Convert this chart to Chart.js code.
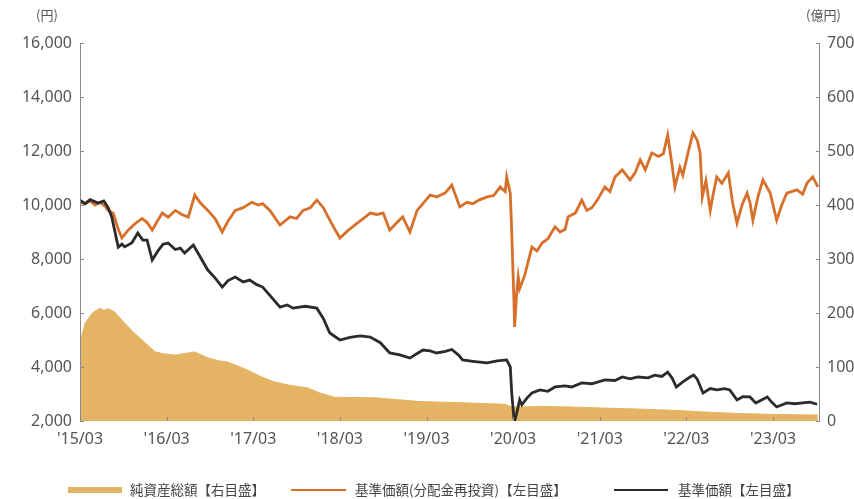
<!DOCTYPE html>
<html>
<head>
<meta charset="utf-8">
<script src="https://cdn.jsdelivr.net/npm/chart.js@4/dist/chart.umd.min.js"></script>
<style>
  html, body { margin: 0; padding: 0; background: #fff; }
  #wrap { position: relative; width: 854px; height: 499px; overflow: hidden; }
  canvas { position: absolute; left: 0; top: 0; }
  .lg { position: absolute; top: 479px; font: 13.5px "Noto Sans CJK JP", sans-serif; color: #444; white-space: nowrap; }
  .sw { position: absolute; }
</style>
</head>
<body>
<div id="wrap">
  <canvas id="chart" width="854" height="499"></canvas>
  <div class="sw" style="left:68px;top:487px;width:54px;height:6px;background:#E4B464;"></div>
  <div class="lg" style="left:130px;">純資産総額【右目盛】</div>
  <div class="sw" style="left:291px;top:489px;width:55px;height:2px;background:#D6702A;"></div>
  <div class="lg" style="left:355px;">基準価額(分配金再投資)【左目盛】</div>
  <div class="sw" style="left:614px;top:489px;width:54px;height:2px;background:#2B2B2B;"></div>
  <div class="lg" style="left:678px;">基準価額【左目盛】</div>
</div>
<script>
// months counted from 2015/03
const xTickMonths = [0, 12, 24, 36, 48, 60, 72, 84, 96];
const xTickLabels = ["'15/03", "'16/03", "'17/03", "'18/03", "'19/03", "'20/03", "'21/03", "'22/03", "'23/03"];

// 基準価額(分配金再投資) 円
const reinvMonths = [0, 0.7, 1.4, 2.1, 2.8, 3.5, 3.9, 4.6, 5.3, 5.8, 6.6, 7.6, 8.6, 9.3, 10, 10.7, 11.4, 12.2, 13.2, 14.1,
  15, 15.9, 16.6, 17.7, 18.7, 19.7, 20.5, 21.5, 22.6, 23.8, 24.7, 25.3, 26.3, 27.7, 29.1, 30, 30.9, 31.9, 32.8, 33.7,
  34.6, 35.3, 36, 37.1, 38.4, 39.5, 40.2, 41.1, 42, 42.9, 43.9, 44.7, 45.7, 46.7, 47.5, 48.5, 49.4, 50.6, 51.5, 52.6,
  53.6, 54.4, 55.4, 56.4, 57.3, 58.2, 58.9, 59.1, 59.6, 59.8, 60.1, 60.2, 60.5, 60.7, 60.9, 61.6, 62.6, 63.3, 64, 64.8,
  65.8, 66.5, 67.2, 67.6, 68.6, 69.5, 70.2, 70.9, 71.7, 72.7, 73.4, 74.1, 75.1, 76.2, 76.9, 77.6, 78.3, 79.2, 80.1, 80.8,
  81.4, 82, 82.4, 83.1, 83.5, 84.1, 84.9, 85.5, 85.9, 86.2, 86.7, 87.3, 87.7, 88.2, 88.9, 89.8, 90.4, 91, 91.7, 92.4,
  92.8, 93.2, 93.9, 94.6, 95.6, 96.5, 97.2, 97.9, 99.3, 100.1, 100.7, 101.5, 102.2];
const reinvValues = [10100, 10050, 10150, 10000, 10100, 9950, 9800, 9700, 9100, 8780, 9050, 9300, 9500, 9350, 9070, 9400, 9700, 9550, 9800, 9650,
  9550, 10370, 10100, 9800, 9500, 9000, 9400, 9800, 9900, 10100, 10000, 10050, 9800, 9260, 9560, 9500, 9800, 9900, 10180, 9900,
  9440, 9100, 8780, 9050, 9330, 9550, 9700, 9650, 9700, 9070, 9350, 9560, 9000, 9800, 10050, 10370, 10300, 10450, 10740, 9930,
  10100, 10050, 10200, 10300, 10350, 10670, 10500, 11040, 10440, 9000, 6500, 5480, 6800, 7330, 6900, 7400, 8440, 8300, 8590, 8750,
  9190, 9000, 9100, 9560, 9700, 10180, 9800, 9900, 10200, 10670, 10500, 11040, 11300, 10930, 11200, 11670, 11300, 11930, 11800, 11900,
  12590, 11500, 10670, 11400, 11100, 11800, 12670, 12400, 11930, 10300, 10900, 9800, 10400, 11040, 10800, 11190, 10070, 9330, 10000, 10440,
  10100, 9440, 10300, 10930, 10440, 9440, 10000, 10440, 10560, 10400, 10810, 11040, 10670];

// 基準価額 円
const navMonths = [0, 0.7, 1.4, 2.5, 3.3, 3.9, 4.4, 5.3, 5.8, 6.2, 7.2, 8, 8.7, 9.3, 10, 10.8, 11.5, 12.2, 13.2, 13.9,
  14.5, 15.7, 16.6, 17.7, 18.7, 19.7, 20.5, 21.5, 22.6, 23.5, 24.5, 25.3, 26.3, 27.7, 28.7, 29.5, 31.2, 32.8, 33.7, 34.6,
  36, 37.4, 38.8, 40.2, 41.6, 42.9, 44.3, 45.7, 46.7, 47.5, 48.5, 49.4, 50.6, 51.5, 52.4, 53, 54.7, 56.4, 57.8, 59.1,
  59.6, 59.8, 60.1, 60.2, 60.5, 60.9, 61.2, 61.9, 62.6, 63.7, 64.8, 65.8, 67.2, 68.1, 69.5, 70.9, 72.7, 74.1, 75.1, 76.2,
  77.3, 78.7, 79.6, 80.6, 81.4, 82, 82.6, 83.5, 84.5, 85, 85.5, 86.3, 87.3, 88.2, 89.3, 90, 91, 91.8, 92.8, 93.6,
  95.2, 95.8, 96.5, 97.9, 99, 100.1, 101.1, 102.1];
const navValues = [10180, 10050, 10200, 10070, 10150, 9900, 9560, 8440, 8550, 8450, 8600, 8960, 8700, 8700, 7960, 8300, 8550, 8590, 8350, 8400,
  8220, 8520, 8100, 7590, 7300, 6960, 7200, 7330, 7150, 7220, 7050, 6960, 6650, 6220, 6300, 6180, 6250, 6180, 5800, 5260,
  5000, 5100, 5150, 5110, 4900, 4520, 4450, 4330, 4500, 4630, 4600, 4520, 4580, 4650, 4450, 4260, 4200, 4150, 4230, 4260,
  4000, 3040, 2100, 2000, 2300, 2780, 2600, 2850, 3040, 3150, 3100, 3260, 3300, 3260, 3410, 3380, 3520, 3500, 3630, 3560,
  3630, 3600, 3700, 3650, 3810, 3600, 3260, 3450, 3630, 3700, 3550, 3040, 3200, 3150, 3200, 3150, 2780, 2900, 2890, 2670,
  2890, 2700, 2520, 2670, 2640, 2670, 2700, 2620];

// 純資産総額 億円
const assetMonths = [0, 0.3, 0.7, 1.7, 2.8, 3.3, 3.9, 4.8, 6.2, 7.6, 8.6, 10.4, 11.8, 13.2, 14.5, 15.9, 17.7, 19.1, 20.5, 23.3,
  24.9, 27, 29.1, 31.6, 33.2, 35.3, 40.9, 47.1, 52.6, 58.9, 59.8, 60.9, 63.7, 67.9, 72.3, 77.6, 82, 85.9, 91, 97, 102.2];
const assetValues = [140, 160, 181, 200, 209, 205, 208, 202, 181, 162, 150, 128, 124, 122, 125, 128, 117, 112, 109, 94,
  83, 72, 66, 61, 52, 44, 43, 36, 34, 31, 26, 26, 27, 26, 24, 22, 20, 17, 14, 12, 11];

const leftTicks = [2000, 4000, 6000, 8000, 10000, 12000, 14000, 16000];
const rightTicks = [0, 100, 200, 300, 400, 500, 600, 700];

const pts = (xs, ys) => xs.map((x, i) => ({ x, y: ys[i] }));

const axisDeco = {
  id: 'axisDeco',
  afterDraw(chart) {
    const { ctx, chartArea: a, scales } = chart;
    ctx.save();
    ctx.strokeStyle = '#8a8a8a';
    ctx.lineWidth = 1;
    ctx.beginPath();
    ctx.moveTo(a.left + 0.5, a.top); ctx.lineTo(a.left + 0.5, a.bottom);
    ctx.moveTo(a.right - 0.5, a.top); ctx.lineTo(a.right - 0.5, a.bottom);
    leftTicks.forEach((v) => {
      const y = Math.round(scales.y.getPixelForValue(v)) + 0.5;
      ctx.moveTo(a.left, y); ctx.lineTo(a.left + 4, y);
    });
    rightTicks.forEach((v) => {
      const y = Math.round(scales.y2.getPixelForValue(v)) + 0.5;
      ctx.moveTo(a.right, y); ctx.lineTo(a.right - 4, y);
    });
    xTickMonths.forEach((m) => {
      const x = Math.round(scales.x.getPixelForValue(m)) + 0.5;
      ctx.moveTo(x, a.bottom); ctx.lineTo(x, a.bottom - 4);
    });
    ctx.stroke();
    ctx.fillStyle = '#555';
    ctx.font = '13px "Noto Sans CJK JP", sans-serif';
    ctx.textBaseline = 'middle';
    ctx.textAlign = 'center';
    ctx.fillText('(円)', 47, 15);
    ctx.textAlign = 'left';
    ctx.fillText('(億円)', 806, 15);
    ctx.restore();
  },
};

const tickFont = { family: '"Noto Sans", sans-serif', size: 16 };

new Chart(document.getElementById('chart'), {
  type: 'line',
  data: {
    datasets: [
      {
        label: '基準価額【左目盛】',
        data: pts(navMonths, navValues),
        yAxisID: 'y',
        borderColor: '#2B2B2B',
        borderWidth: 2.8,
        pointRadius: 0,
        tension: 0,
        order: 0,
      },
      {
        label: '基準価額(分配金再投資)【左目盛】',
        data: pts(reinvMonths, reinvValues),
        yAxisID: 'y',
        borderColor: '#D6702A',
        borderWidth: 2.8,
        pointRadius: 0,
        tension: 0,
        order: 1,
      },
      {
        label: '純資産総額【右目盛】',
        data: pts(assetMonths, assetValues),
        yAxisID: 'y2',
        borderColor: '#E4B464',
        backgroundColor: '#E4B464',
        borderWidth: 1,
        pointRadius: 0,
        tension: 0,
        fill: 'origin',
        order: 2,
      },
    ],
  },
  options: {
    responsive: false,
    animation: false,
    layout: { padding: { top: 43, bottom: 48, left: 0, right: 0 } },
    plugins: { legend: { display: false }, tooltip: { enabled: false } },
    scales: {
      x: {
        type: 'linear',
        min: 0,
        max: 102.5,
        grid: { display: false, drawTicks: false },
        border: { display: false },
        afterBuildTicks: (s) => { s.ticks = xTickMonths.map((v) => ({ value: v })); },
        afterFit: (s) => { s.height = 30; },
        ticks: {
          autoSkip: false, maxRotation: 0, padding: 9, color: '#555', font: tickFont,
          callback: (v) => xTickLabels[xTickMonths.indexOf(v)],
        },
      },
      y: {
        position: 'left',
        min: 2000,
        max: 16000,
        grid: { display: false, drawTicks: false },
        border: { display: false },
        afterBuildTicks: (s) => { s.ticks = leftTicks.map((v) => ({ value: v })); },
        afterFit: (s) => { s.width = 80; },
        ticks: { padding: 8, color: '#555', font: tickFont, callback: (v) => v.toLocaleString('en-US') },
      },
      y2: {
        position: 'right',
        min: 0,
        max: 700,
        grid: { display: false, drawTicks: false },
        border: { display: false },
        afterBuildTicks: (s) => { s.ticks = rightTicks.map((v) => ({ value: v })); },
        afterFit: (s) => { s.width = 34; },
        ticks: { padding: 7, color: '#555', font: tickFont },
      },
    },
  },
  plugins: [axisDeco],
});
</script>
</body>
</html>
